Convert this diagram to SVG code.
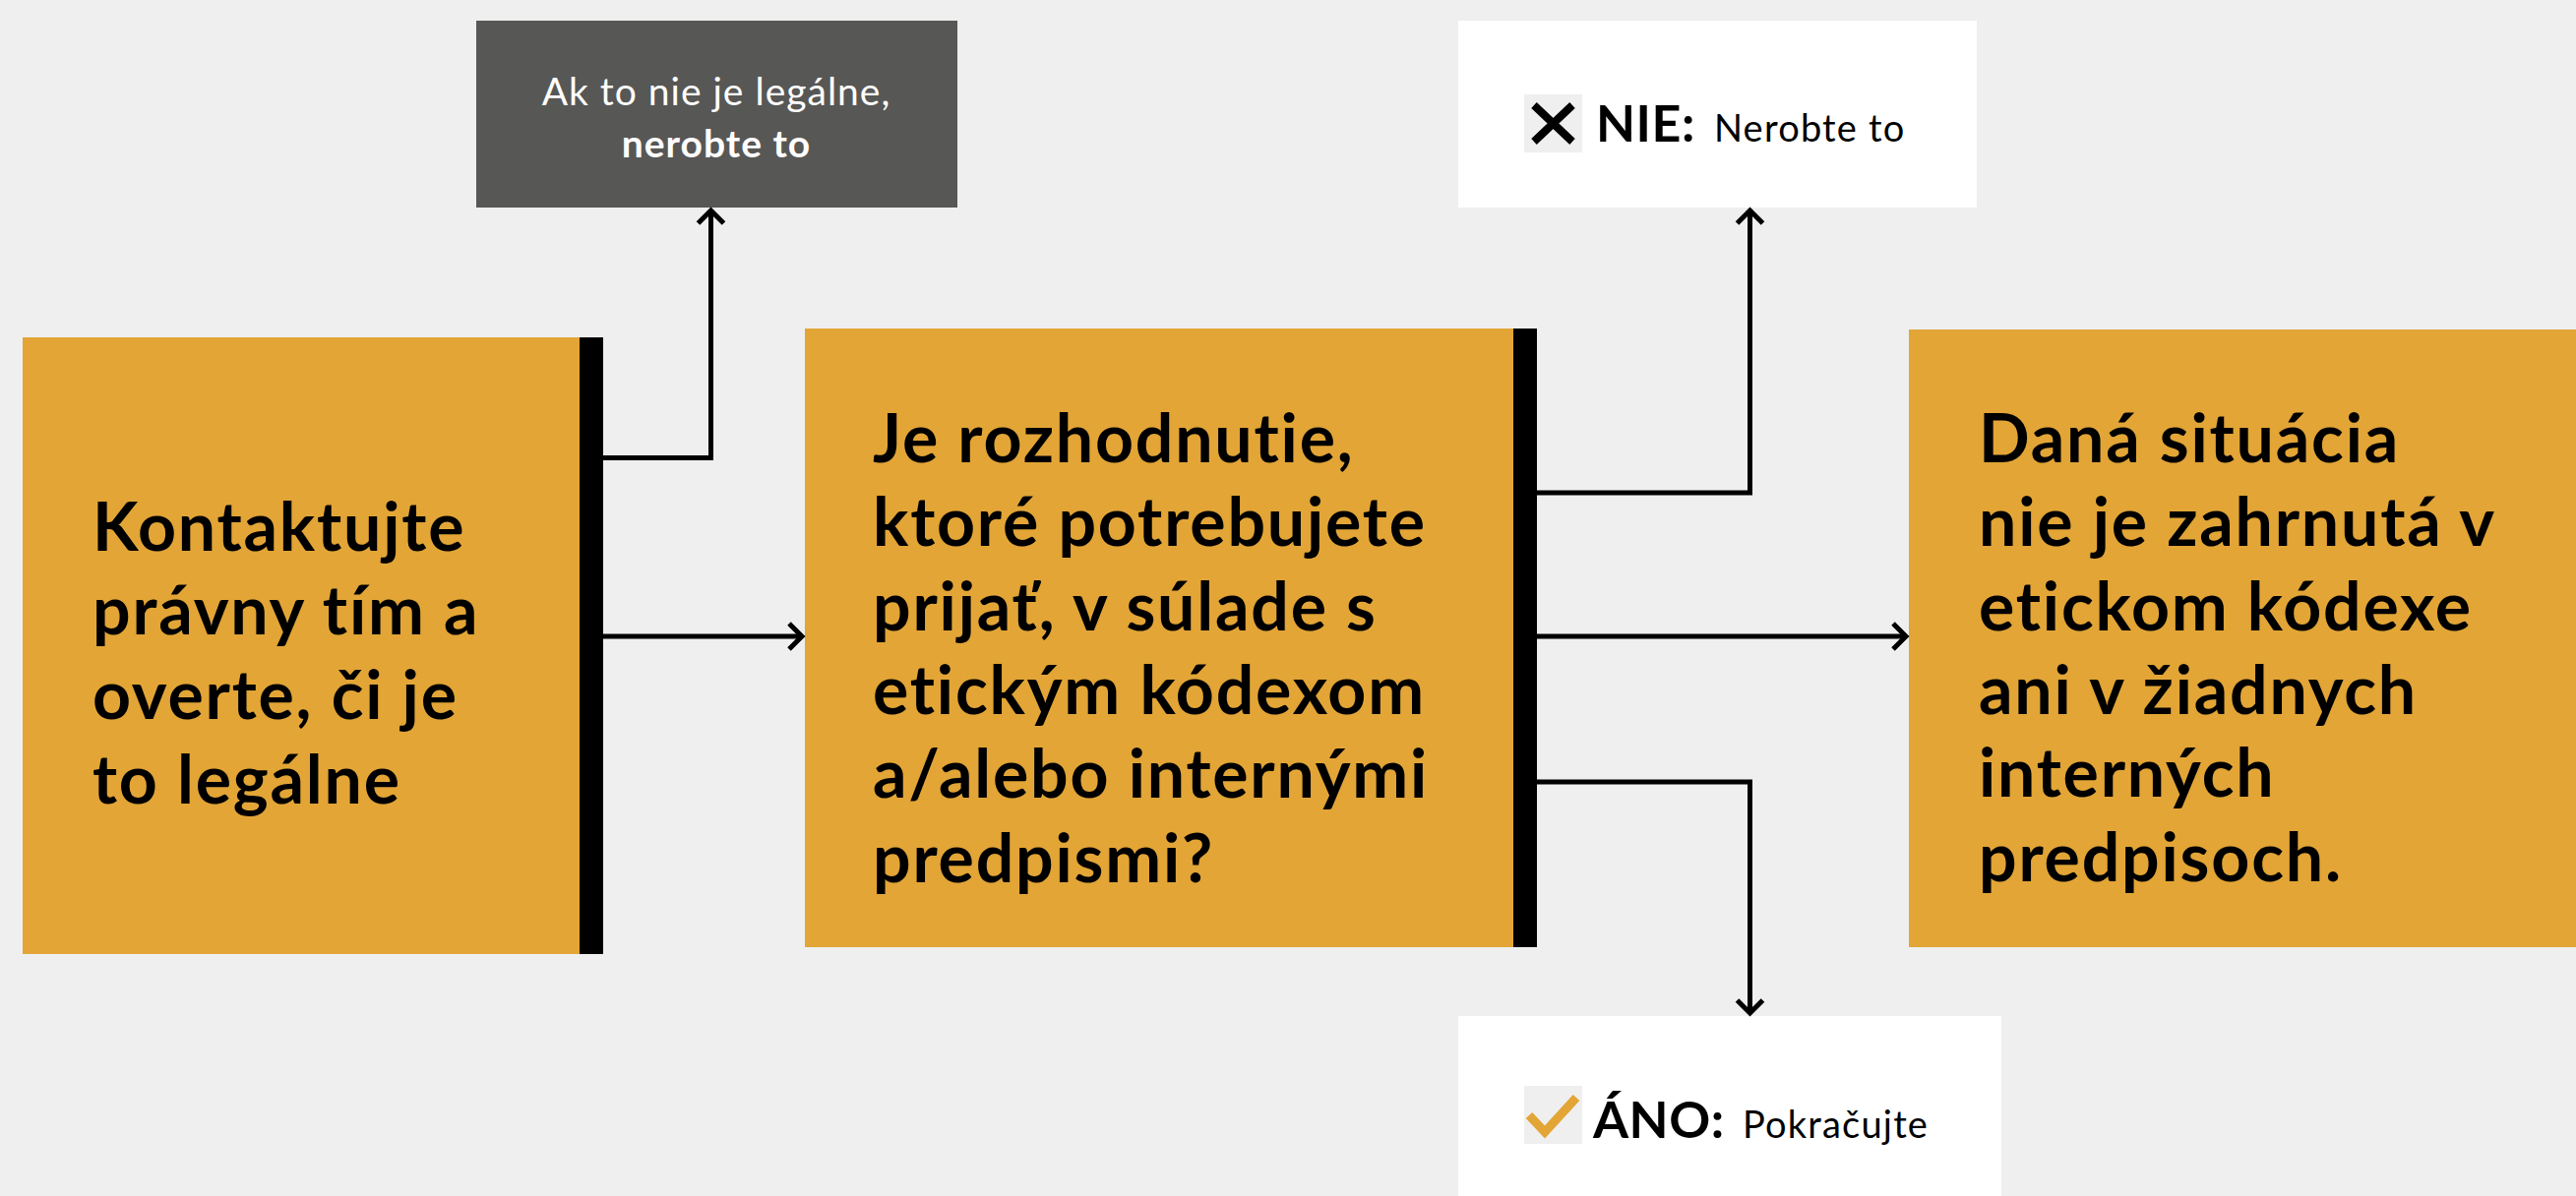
<svg xmlns="http://www.w3.org/2000/svg" width="2618" height="1216" viewBox="0 0 2618 1216">
<style>
.bg{fill:#efefef}
.or{fill:#e2a536}
.bar{fill:#000}
.t{font-family:Lato,"Open Sans","Liberation Sans",sans-serif;font-weight:700;font-size:68px;letter-spacing:1.8px;fill:#000}
.dk{fill:#575755}
.wt{font-family:Lato,"Open Sans","Liberation Sans",sans-serif;font-size:39px;letter-spacing:1px;fill:#fff}
.lb{font-family:Lato,"Open Sans","Liberation Sans",sans-serif;font-weight:700;font-size:52px;letter-spacing:0.5px;fill:#000}
.ls{font-family:Lato,"Open Sans","Liberation Sans",sans-serif;font-weight:400;font-size:38px;letter-spacing:1.2px;fill:#000}
.c{fill:none;stroke:#000;stroke-width:5}
</style>
<defs>
<marker id="ah" markerUnits="userSpaceOnUse" markerWidth="40" markerHeight="40" viewBox="-20 -20 40 40" refX="0" refY="0" orient="auto">
<path d="M-13,-13 L0,0 L-13,13" fill="none" stroke="#000" stroke-width="5"/>
</marker>
</defs>
<rect class="bg" x="0" y="0" width="2618" height="1216"/>

<g id="n-legal">
<rect class="or" x="23" y="343" width="590" height="627"/>
<rect class="bar" x="589" y="343" width="24" height="627"/>
<text class="t" x="94" y="560">Kontaktujte</text>
<text class="t" x="94" y="645">právny tím a</text>
<text class="t" x="94" y="731">overte, či je</text>
<text class="t" x="94" y="817">to legálne</text>
</g>

<g id="n-notlegal">
<rect class="dk" x="484" y="21" width="489" height="190"/>
<text class="wt" x="728" y="107" text-anchor="middle">Ak to nie je legálne,</text>
<text class="wt" x="728" y="160" text-anchor="middle" font-weight="700">nerobte to</text>
</g>

<g id="n-question">
<rect class="or" x="818" y="334" width="744" height="629"/>
<rect class="bar" x="1538" y="334" width="24" height="629"/>
<text class="t" x="887" y="470">Je rozhodnutie,</text>
<text class="t" x="887" y="555">ktoré potrebujete</text>
<text class="t" x="887" y="641">prijať, v súlade s</text>
<text class="t" x="887" y="726">etickým kódexom</text>
<text class="t" x="887" y="811">a/alebo internými</text>
<text class="t" x="887" y="897">predpismi?</text>
</g>

<g id="n-notcovered">
<rect class="or" x="1940" y="335" width="678" height="628"/>
<text class="t" x="2011" y="470">Daná situácia</text>
<text class="t" x="2011" y="555">nie je zahrnutá v</text>
<text class="t" x="2011" y="641">etickom kódexe</text>
<text class="t" x="2011" y="726">ani v žiadnych</text>
<text class="t" x="2011" y="810">interných</text>
<text class="t" x="2011" y="896">predpisoch.</text>
</g>

<g id="n-nie">
<rect fill="#fff" x="1482" y="21" width="527" height="190"/>
<rect class="bg" x="1549" y="96" width="59" height="59"/>
<path d="M1559,107 L1598,144 M1598,107 L1559,144" fill="none" stroke="#000" stroke-width="8"/>
<text class="lb" x="1622" y="144">NIE:</text>
<text class="ls" x="1742" y="144">Nerobte to</text>
</g>

<g id="n-ano">
<rect fill="#fff" x="1482" y="1033" width="552" height="183"/>
<rect class="bg" x="1549" y="1104" width="59" height="59"/>
<path d="M1554,1134 L1570,1151 L1602,1116" fill="none" stroke="#e2a536" stroke-width="9"/>
<text class="lb" x="1619" y="1157">ÁNO:</text>
<text class="ls" x="1771" y="1157">Pokračujte</text>
</g>

<g id="connectors">
<path class="c" d="M613,465.5 H722.5 V214" marker-end="url(#ah)"/>
<path class="c" d="M613,647 H815" marker-end="url(#ah)"/>
<path class="c" d="M1562,501 H1778.5 V214" marker-end="url(#ah)"/>
<path class="c" d="M1562,647 H1937" marker-end="url(#ah)"/>
<path class="c" d="M1562,795 H1778.5 V1030" marker-end="url(#ah)"/>
</g>
</svg>
